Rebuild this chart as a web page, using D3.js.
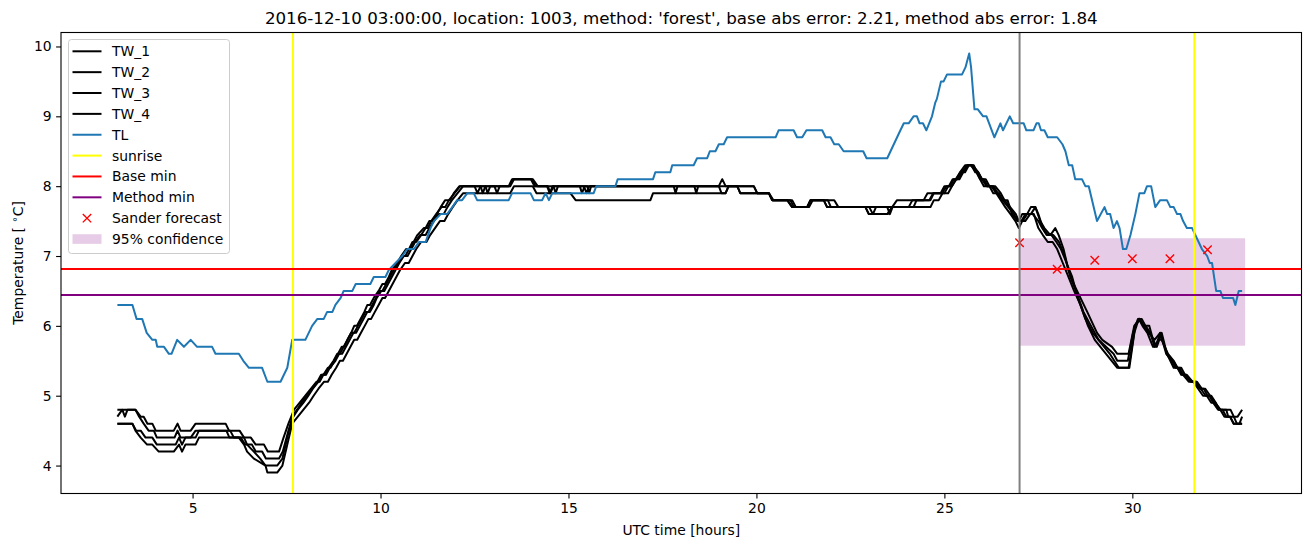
<!DOCTYPE html>
<html>
<head>
<meta charset="utf-8">
<script src="https://cdn.jsdelivr.net/npm/d3@7"></script>
<style>
  html, body { margin: 0; padding: 0; background: #fff; }
  svg { display: block; font-family: "DejaVu Sans", sans-serif; }
</style>
</head>
<body>
<svg id="chart" width="1310" height="547"></svg>
<script>
// ---------------- data ----------------
const titleText = "2016-12-10 03:00:00, location: 1003, method: 'forest', base abs error: 2.21, method abs error: 1.84";
const xTicks = [5, 10, 15, 20, 25, 30];
const yTicks = [4, 5, 6, 7, 8, 9, 10];
const legendLabels = ["TW_1", "TW_2", "TW_3", "TW_4", "TL", "sunrise", "Base min", "Method min", "Sander forecast", "95% confidence"];

// [hour, temperature] vertices
const tw1 = [[3.0,4.8],[3.13,4.8],[3.2,4.7],[3.27,4.8],[3.48,4.8],[3.62,4.7],[3.7,4.7],[3.8,4.6],[3.93,4.6],[4.02,4.5],[4.5,4.5],[4.6,4.6],[4.68,4.5],[4.95,4.5],[5.08,4.6],[5.88,4.6],[5.97,4.5],[6.25,4.5],[6.37,4.4],[6.55,4.4],[6.68,4.3],[6.9,4.3],[7.0,4.2],[7.3,4.2],[7.42,4.4],[7.55,4.6],
 [7.7,4.8],[7.85,4.9],[8.0,5.0],[8.15,5.1],[8.3,5.2],[8.38,5.2],[8.48,5.3],[8.6,5.4],[8.67,5.4],[8.77,5.5],[8.87,5.6],[8.97,5.7],[9.03,5.7],[9.12,5.8],[9.22,5.9],[9.3,6.0],[9.37,6.0],[9.47,6.1],[9.57,6.2],[9.65,6.3],[9.72,6.3],[9.82,6.4],[9.95,6.5],[10.05,6.6],[10.12,6.6],[10.22,6.7],[10.3,6.8],[10.45,6.9],[10.55,7.0],[10.68,7.1],[10.78,7.1],[10.88,7.2],[10.98,7.3],[11.15,7.4],[11.25,7.4],[11.35,7.5],[11.48,7.6],[11.62,7.7],[11.72,7.7],[11.82,7.8],[11.97,7.9],[12.12,8.0],
 [12.66,8.0],[12.72,7.9],[12.79,8.0],[13.03,8.0],[13.1,7.9],[13.17,8.0],[13.43,8.0],[13.52,8.1],[14.03,8.1],[14.12,8.0],[14.45,8.0],[14.52,7.9],[14.6,8.0],[15.41,8.0],[15.48,7.9],[15.55,8.0],[17.8,8.0],[17.85,7.9],[17.9,8.0],[18.35,8.0],[18.4,7.9],[18.45,8.0],[19.0,8.0],[19.09,8.1],[19.18,8.0],[19.49,8.0],[19.57,7.9],[20.33,7.9],[20.42,7.8],[20.82,7.8],[20.95,7.7],[21.35,7.7],[21.44,7.8],[21.79,7.8],[21.88,7.7],[23.61,7.7],[23.74,7.8],[24.45,7.8],[24.55,7.9],[24.94,7.9],[25.05,8.0],[25.15,8.0],[25.25,8.1],[25.35,8.1],[25.47,8.2],[25.6,8.3],[25.75,8.3],[25.9,8.2],[26.0,8.1],[26.1,8.1],[26.2,8.0],[26.35,8.0],[26.5,7.9],[26.6,7.8],[26.75,7.7],[26.9,7.6],[26.98,7.5],[27.07,7.6],[27.2,7.6],[27.3,7.7],[27.42,7.7],[27.55,7.5],[27.66,7.4],[27.82,7.3],[27.95,7.4],[28.04,7.3],[28.17,7.1],[28.3,6.8],[28.44,6.6],[28.62,6.4],[28.8,6.2],[29.06,5.9],[29.2,5.8],[29.46,5.7],[29.6,5.6],[29.9,5.6],[30.05,6.0],[30.19,6.1],[30.3,6.0],[30.43,5.9],[30.59,5.8],[30.74,5.9],[30.92,5.6],[31.1,5.4],[31.2,5.4],[31.32,5.3],[31.41,5.3],[31.59,5.2],[31.72,5.2],[31.85,5.1],[31.94,5.1],[32.07,5.0],[32.2,4.9],[32.34,4.8],[32.61,4.8],[32.7,4.7],[32.8,4.7],[32.92,4.8]];

const tw2 = [[3.0,4.7],[3.13,4.8],[3.48,4.8],[3.58,4.7],[3.7,4.6],[3.83,4.5],[3.97,4.5],[4.05,4.4],[4.52,4.4],[4.6,4.5],[4.68,4.4],[4.95,4.4],[5.08,4.5],[5.9,4.5],[5.98,4.4],[6.28,4.4],[6.4,4.3],[6.58,4.3],[6.68,4.2],[6.85,4.2],[6.95,4.1],[7.3,4.1],[7.4,4.2],[7.55,4.5],[7.68,4.7],
 [7.8,4.8],[7.95,4.9],[8.08,5.0],[8.2,5.1],[8.35,5.2],[8.45,5.3],[8.55,5.3],[8.65,5.4],[8.8,5.5],[8.9,5.6],[8.98,5.6],[9.08,5.7],[9.18,5.8],[9.28,5.9],[9.35,5.9],[9.45,6.0],[9.55,6.1],[9.65,6.2],[9.72,6.2],[9.82,6.3],[9.9,6.4],[10.02,6.5],[10.1,6.5],[10.2,6.6],[10.3,6.7],[10.4,6.8],[10.5,6.9],[10.62,7.0],[10.72,7.0],[10.82,7.1],[10.92,7.2],[11.05,7.3],[11.2,7.3],[11.3,7.4],[11.42,7.5],[11.55,7.6],[11.68,7.6],[11.78,7.7],[11.9,7.8],[12.05,7.9],[12.2,8.0],
 [12.79,8.0],[12.85,7.9],[12.92,8.0],[13.41,8.0],[13.5,8.1],[14.0,8.1],[14.1,8.0],[14.6,8.0],[14.66,7.9],[14.72,8.0],[15.3,8.0],[15.36,7.9],[15.43,8.0],[19.0,8.0],[19.07,7.9],[19.18,7.9],[19.26,8.0],[19.93,8.0],[20.02,7.9],[20.33,7.9],[20.45,7.8],[20.9,7.8],[21.0,7.7],[21.4,7.7],[21.5,7.8],[21.9,7.8],[21.98,7.7],[22.9,7.7],[22.99,7.6],[23.1,7.6],[23.18,7.7],[23.48,7.7],[23.55,7.6],[23.62,7.7],[24.18,7.7],[24.26,7.8],[24.63,7.8],[24.72,7.9],[25.0,7.9],[25.1,8.0],[25.2,8.0],[25.32,8.1],[25.42,8.2],[25.55,8.2],[25.65,8.3],[25.78,8.3],[25.95,8.1],[26.05,8.1],[26.15,8.0],[26.3,8.0],[26.42,7.9],[26.55,7.8],[26.68,7.8],[26.8,7.6],[26.95,7.5],[27.05,7.5],[27.15,7.6],[27.3,7.6],[27.42,7.7],[27.5,7.6],[27.62,7.4],[27.75,7.3],[27.9,7.3],[28.05,7.2],[28.2,7.0],[28.35,6.7],[28.5,6.5],[28.7,6.2],[28.9,6.0],[29.1,5.8],[29.3,5.7],[29.5,5.6],[29.6,5.5],[29.88,5.5],[30.02,5.9],[30.15,6.1],[30.25,6.1],[30.35,6.0],[30.48,5.9],[30.59,5.7],[30.7,5.8],[30.78,5.8],[30.95,5.6],[31.1,5.5],[31.2,5.4],[31.3,5.4],[31.4,5.3],[31.55,5.2],[31.65,5.2],[31.8,5.1],[31.9,5.1],[32.0,5.0],[32.1,5.0],[32.22,4.9],[32.3,4.8],[32.5,4.8],[32.55,4.7],[32.7,4.7],[32.78,4.6],[32.92,4.6]];

const tw3 = [[3.0,4.6],[3.4,4.6],[3.5,4.5],[3.62,4.5],[3.75,4.4],[3.93,4.4],[4.05,4.3],[4.55,4.3],[4.64,4.4],[4.72,4.3],[4.81,4.4],[5.08,4.4],[5.17,4.5],[6.0,4.5],[6.1,4.4],[6.37,4.4],[6.45,4.3],[6.63,4.2],[6.8,4.1],[6.94,4.0],[7.25,4.0],[7.39,4.1],[7.52,4.4],[7.65,4.7],
 [7.78,4.8],[7.9,4.9],[8.05,5.0],[8.18,5.1],[8.32,5.2],[8.42,5.3],[8.52,5.3],[8.62,5.4],[8.75,5.5],[8.85,5.6],[8.92,5.6],[9.02,5.7],[9.12,5.8],[9.22,5.9],[9.3,5.9],[9.4,6.0],[9.5,6.1],[9.6,6.2],[9.68,6.2],[9.78,6.3],[9.88,6.4],[9.98,6.5],[10.05,6.5],[10.15,6.6],[10.25,6.7],[10.35,6.8],[10.48,6.9],[10.58,7.0],[10.66,7.0],[10.76,7.1],[10.85,7.2],[10.95,7.2],[11.08,7.3],[11.2,7.4],[11.3,7.5],[11.4,7.5],[11.5,7.6],[11.6,7.7],[11.72,7.8],[11.85,7.8],[11.95,7.9],[12.1,8.0],
 [12.5,8.0],[12.58,7.9],[12.66,8.0],[13.45,8.0],[13.55,8.1],[14.05,8.1],[14.18,8.0],[14.43,8.0],[14.5,7.9],[14.58,8.0],[15.5,8.0],[15.55,7.9],[15.6,8.0],[19.49,8.0],[19.57,7.9],[20.33,7.9],[20.42,7.8],[20.82,7.8],[20.95,7.7],[21.35,7.7],[21.44,7.8],[22.07,7.8],[22.18,7.7],[23.0,7.7],[23.1,7.6],[23.5,7.6],[23.61,7.7],[24.05,7.7],[24.15,7.8],[24.6,7.8],[24.7,7.9],[24.9,7.9],[25.0,8.0],[25.12,8.0],[25.22,8.1],[25.3,8.1],[25.42,8.2],[25.55,8.3],[25.7,8.3],[25.85,8.2],[25.95,8.1],[26.05,8.0],[26.2,8.0],[26.3,7.9],[26.45,7.9],[26.55,7.8],[26.7,7.7],[26.85,7.6],[26.95,7.5],[27.08,7.5],[27.2,7.6],[27.35,7.6],[27.5,7.5],[27.6,7.4],[27.72,7.3],[27.85,7.3],[27.98,7.2],[28.1,7.1],[28.25,6.9],[28.4,6.7],[28.55,6.4],[28.75,6.1],[28.95,5.9],[29.1,5.8],[29.25,5.7],[29.4,5.6],[29.52,5.5],[29.64,5.4],[29.92,5.4],[30.08,6.0],[30.2,6.1],[30.3,6.0],[30.45,6.0],[30.55,5.8],[30.65,5.7],[30.78,5.9],[30.92,5.6],[31.08,5.5],[31.2,5.4],[31.3,5.3],[31.45,5.3],[31.6,5.2],[31.7,5.2],[31.82,5.1],[31.95,5.0],[32.05,5.0],[32.15,4.9],[32.28,4.8],[32.4,4.8],[32.5,4.7],[32.6,4.7],[32.69,4.6],[32.92,4.6]];

const tw4 = [[3.0,4.6],[3.4,4.6],[3.48,4.5],[3.62,4.4],[3.79,4.3],[3.93,4.3],[4.1,4.2],[4.5,4.2],[4.64,4.3],[4.72,4.2],[4.81,4.3],[5.08,4.3],[5.17,4.4],[6.23,4.4],[6.37,4.3],[6.45,4.2],[6.63,4.1],[6.94,4.0],[6.99,3.9],[7.25,3.9],[7.39,4.0],[7.52,4.3],[7.65,4.6],
 [7.8,4.7],[7.95,4.8],[8.1,4.9],[8.22,5.0],[8.35,5.1],[8.5,5.2],[8.6,5.2],[8.7,5.3],[8.82,5.4],[8.92,5.5],[9.0,5.5],[9.1,5.6],[9.2,5.7],[9.3,5.8],[9.38,5.8],[9.48,5.9],[9.58,6.0],[9.68,6.1],[9.75,6.1],[9.85,6.2],[9.95,6.3],[10.05,6.4],[10.12,6.4],[10.22,6.5],[10.32,6.6],[10.42,6.7],[10.52,6.8],[10.65,6.9],[10.75,6.9],[10.85,7.0],[10.95,7.1],[11.08,7.2],[11.22,7.2],[11.32,7.3],[11.45,7.4],[11.58,7.5],[11.7,7.5],[11.8,7.6],[11.92,7.7],[12.05,7.8],[12.2,7.9],
 [13.45,7.9],[13.55,8.0],[14.05,8.0],[14.15,7.9],[15.05,7.9],[15.19,7.8],[17.18,7.8],[17.25,7.9],[19.18,7.9],[19.26,8.0],[19.93,8.0],[20.02,7.9],[20.33,7.9],[20.42,7.8],[20.95,7.8],[21.05,7.7],[21.35,7.7],[21.44,7.8],[21.79,7.8],[21.88,7.7],[22.9,7.7],[22.99,7.6],[23.48,7.6],[23.61,7.7],[24.63,7.7],[24.72,7.8],[24.85,7.8],[24.95,7.9],[25.1,7.9],[25.2,8.0],[25.3,8.1],[25.4,8.1],[25.5,8.2],[25.62,8.3],[25.72,8.3],[25.82,8.2],[25.9,8.2],[26.0,8.1],[26.12,8.0],[26.25,8.0],[26.38,7.9],[26.5,7.8],[26.62,7.7],[26.76,7.6],[26.89,7.5],[26.98,7.4],[27.07,7.5],[27.15,7.5],[27.28,7.6],[27.38,7.6],[27.5,7.4],[27.62,7.3],[27.75,7.2],[27.88,7.2],[28.0,7.1],[28.15,6.9],[28.3,6.7],[28.45,6.5],[28.62,6.3],[28.82,6.0],[29.0,5.8],[29.15,5.7],[29.3,5.6],[29.45,5.5],[29.6,5.4],[29.9,5.4],[30.05,5.9],[30.17,6.1],[30.27,6.0],[30.4,5.9],[30.55,5.7],[30.62,5.7],[30.74,5.9],[30.9,5.6],[31.05,5.5],[31.15,5.4],[31.25,5.4],[31.35,5.3],[31.5,5.2],[31.62,5.2],[31.75,5.1],[31.88,5.0],[31.98,5.0],[32.1,4.9],[32.2,4.9],[32.34,4.8],[32.45,4.7],[32.6,4.7],[32.7,4.6],[32.85,4.6],[32.92,4.7]];

const tl = [[3.0,6.3],[3.4,6.3],[3.51,6.1],[3.66,6.1],[3.78,5.9],[3.93,5.8],[4.02,5.8],[4.06,5.7],[4.24,5.7],[4.37,5.6],[4.44,5.6],[4.59,5.8],[4.77,5.7],[4.95,5.8],[5.12,5.7],[5.52,5.7],[5.61,5.6],[6.23,5.6],[6.35,5.5],[6.5,5.4],[6.85,5.4],[6.99,5.2],[7.34,5.2],[7.52,5.4],[7.65,5.8],[8.0,5.8],[8.18,6.0],[8.32,6.1],[8.49,6.1],[8.58,6.2],[8.72,6.2],[8.8,6.3],[8.94,6.4],[9.02,6.5],[9.25,6.5],[9.34,6.6],[9.73,6.6],[9.82,6.7],[10.13,6.7],[10.22,6.8],[10.4,6.9],[10.58,7.0],[10.71,7.1],[10.89,7.1],[11.02,7.2],[11.2,7.2],[11.33,7.4],[11.42,7.5],[11.6,7.6],[11.77,7.6],[11.91,7.7],[12.04,7.8],[12.17,7.8],[12.31,7.9],[12.48,7.9],[12.57,7.8],[13.41,7.8],[13.5,7.9],[13.99,7.9],[14.08,7.8],[14.3,7.8],[14.39,7.9],[14.48,7.8],[14.57,7.9],[15.67,7.9],[15.74,8.0],[16.25,8.0],[16.31,8.1],[17.25,8.1],[17.31,8.2],[17.71,8.2],[17.76,8.3],[18.33,8.3],[18.42,8.4],[18.69,8.4],[18.76,8.5],[18.91,8.5],[19.0,8.6],[19.13,8.6],[19.22,8.7],[20.51,8.7],[20.59,8.8],[20.99,8.8],[21.08,8.7],[21.22,8.7],[21.33,8.8],[21.75,8.8],[21.84,8.7],[21.97,8.7],[22.07,8.6],[22.19,8.6],[22.32,8.5],[22.84,8.5],[22.93,8.4],[23.48,8.4],[23.83,8.8],[23.92,8.9],[24.05,8.9],[24.18,9.0],[24.27,9.0],[24.34,8.9],[24.43,8.9],[24.52,8.8],[24.67,9.0],[24.76,9.2],[24.8,9.25],[24.91,9.5],[24.98,9.5],[25.07,9.6],[25.47,9.6],[25.56,9.7],[25.66,9.9],[25.71,9.7],[25.8,9.1],[25.89,9.1],[25.96,9.05],[26.03,9.0],[26.12,9.0],[26.33,8.7],[26.49,8.9],[26.56,8.8],[26.74,9.0],[26.83,8.9],[27.11,8.9],[27.18,8.8],[27.37,8.8],[27.45,8.9],[27.51,8.9],[27.57,8.8],[27.66,8.8],[27.75,8.7],[28.0,8.7],[28.14,8.6],[28.22,8.5],[28.31,8.3],[28.4,8.3],[28.48,8.1],[28.66,8.1],[28.75,8.0],[28.84,8.0],[29.06,7.5],[29.26,7.7],[29.33,7.6],[29.41,7.6],[29.5,7.4],[29.59,7.5],[29.66,7.4],[29.75,7.1],[29.84,7.1],[29.95,7.3],[30.08,7.6],[30.19,7.9],[30.32,7.9],[30.39,8.0],[30.5,8.0],[30.61,7.7],[30.74,7.8],[30.92,7.8],[31.01,7.7],[31.1,7.7],[31.19,7.6],[31.28,7.6],[31.35,7.5],[31.45,7.4],[31.59,7.4],[31.85,7.1],[31.99,7.0],[32.06,6.9],[32.12,6.9],[32.23,6.5],[32.34,6.5],[32.41,6.4],[32.68,6.4],[32.74,6.3],[32.83,6.5],[32.92,6.5]];

const sunriseHours = [7.67, 31.65];
const forecastStart = 27;
const baseMin = 6.814;
const methodMin = 6.442;
const forecastHours = [27, 28, 29, 30, 31, 32];
const forecastValues = [7.19, 6.81, 6.94, 6.96, 6.96, 7.09];
const confidenceBand = { x0: 27, x1: 33, low: 5.716, high: 7.254 };

// ---------------- layout ----------------
const svg = d3.select("#chart");
const L = 61, R = 1301.5, T = 32.5, B = 493.5;
const x = d3.scaleLinear().domain([1.5, 34.5]).range([L, R]);
const y = d3.scaleLinear().domain([3.6, 10.2]).range([B, T]);

const colors = { tw: "#000000", tl: "#1f77b4", sunrise: "#ffff00", base: "#ff0000", method: "#800080", fc: "#ff0000", conf: "#800080", gray: "#808080" };

const clipId = "plotclip";
svg.append("defs").append("clipPath").attr("id", clipId)
  .append("rect").attr("x", L).attr("y", T).attr("width", R - L).attr("height", B - T);

const plot = svg.append("g").attr("clip-path", `url(#${clipId})`);

// confidence band (below lines)
plot.append("rect")
  .attr("x", x(confidenceBand.x0)).attr("width", x(confidenceBand.x1) - x(confidenceBand.x0))
  .attr("y", y(confidenceBand.high)).attr("height", y(confidenceBand.low) - y(confidenceBand.high))
  .attr("fill", colors.conf).attr("fill-opacity", 0.2);

const line = d3.line().x(d => x(d[0])).y(d => y(d[1]));
[tw1, tw2, tw3, tw4].forEach(s => {
  plot.append("path").attr("d", line(s)).attr("fill", "none")
    .attr("stroke", colors.tw).attr("stroke-width", 2).attr("stroke-linejoin", "round");
});
plot.append("path").attr("d", line(tl)).attr("fill", "none")
  .attr("stroke", colors.tl).attr("stroke-width", 2).attr("stroke-linejoin", "round");

sunriseHours.forEach(h => {
  plot.append("line").attr("x1", x(h)).attr("x2", x(h)).attr("y1", T).attr("y2", B)
    .attr("stroke", colors.sunrise).attr("stroke-width", 2);
});
plot.append("line").attr("x1", L).attr("x2", R).attr("y1", y(baseMin)).attr("y2", y(baseMin))
  .attr("stroke", colors.base).attr("stroke-width", 2);
plot.append("line").attr("x1", L).attr("x2", R).attr("y1", y(methodMin)).attr("y2", y(methodMin))
  .attr("stroke", colors.method).attr("stroke-width", 2);

function xMarker(g, cx, cy, s) {
  g.append("path").attr("d", `M${cx - s},${cy - s}L${cx + s},${cy + s}M${cx - s},${cy + s}L${cx + s},${cy - s}`)
    .attr("stroke", colors.fc).attr("stroke-width", 1.4).attr("fill", "none");
}
forecastHours.forEach((h, i) => xMarker(plot, x(h), y(forecastValues[i]), 4.2));

plot.append("line").attr("x1", x(forecastStart)).attr("x2", x(forecastStart)).attr("y1", T).attr("y2", B)
  .attr("stroke", colors.gray).attr("stroke-width", 2);

// ---------------- axes ----------------
const xAxis = d3.axisBottom(x).tickValues(xTicks).tickSize(4.9).tickPadding(4.5).tickFormat(d3.format("d"));
const yAxis = d3.axisLeft(y).tickValues(yTicks).tickSize(4.9).tickPadding(4.5).tickFormat(d3.format("d"));
const gx = svg.append("g").attr("transform", `translate(0,${B})`).call(xAxis);
const gy = svg.append("g").attr("transform", `translate(${L},0)`).call(yAxis);
[gx, gy].forEach(g => {
  g.select(".domain").remove();
  g.selectAll("line").attr("stroke", "#000").attr("stroke-width", 1.1);
  g.selectAll("text").attr("font-family", "DejaVu Sans").attr("font-size", 13.9).attr("fill", "#000");
});

// frame
svg.append("rect").attr("x", L).attr("y", T).attr("width", R - L).attr("height", B - T)
  .attr("fill", "none").attr("stroke", "#000").attr("stroke-width", 1.1);

// title and labels
svg.append("text").attr("x", (L + R) / 2).attr("y", 24).attr("text-anchor", "middle")
  .attr("font-size", 16.7).attr("fill", "#000").text(titleText);
svg.append("text").attr("x", (L + R) / 2).attr("y", 535).attr("text-anchor", "middle")
  .attr("font-size", 13.9).attr("fill", "#000").text("UTC time [hours]");
const yl = svg.append("text").attr("transform", `translate(23,${(T + B) / 2}) rotate(-90)`)
  .attr("text-anchor", "middle").attr("font-size", 13.9).attr("fill", "#000");
yl.append("tspan").text("Temperature [ ");
yl.append("tspan").attr("font-size", 10).attr("dy", -5).text("∘");
yl.append("tspan").attr("dy", 5).text("C]");

// ---------------- legend ----------------
const lg = svg.append("g");
lg.append("rect").attr("x", 68.5).attr("y", 39.5).attr("width", 161).attr("height", 214)
  .attr("rx", 3).attr("fill", "#fff").attr("fill-opacity", 0.8).attr("stroke", "#cccccc").attr("stroke-width", 1);
const rowY = i => 51.3 + i * 20.86;
const hx0 = 72.5, hx1 = 101.5, tx = 112;
legendLabels.forEach((lab, i) => {
  const yy = rowY(i);
  if (i <= 7) {
    const c = i < 4 ? colors.tw : i === 4 ? colors.tl : i === 5 ? colors.sunrise : i === 6 ? colors.base : colors.method;
    lg.append("line").attr("x1", hx0).attr("x2", hx1).attr("y1", yy).attr("y2", yy)
      .attr("stroke", c).attr("stroke-width", 2);
  } else if (i === 8) {
    xMarker(lg, (hx0 + hx1) / 2, yy, 4.2);
  } else {
    lg.append("rect").attr("x", hx0).attr("y", yy - 4.8).attr("width", hx1 - hx0).attr("height", 9.6)
      .attr("fill", colors.conf).attr("fill-opacity", 0.2);
  }
  lg.append("text").attr("x", tx).attr("y", yy).attr("dy", "0.36em")
    .attr("font-size", 13.9).attr("fill", "#000").text(lab);
});
</script>
</body>
</html>
